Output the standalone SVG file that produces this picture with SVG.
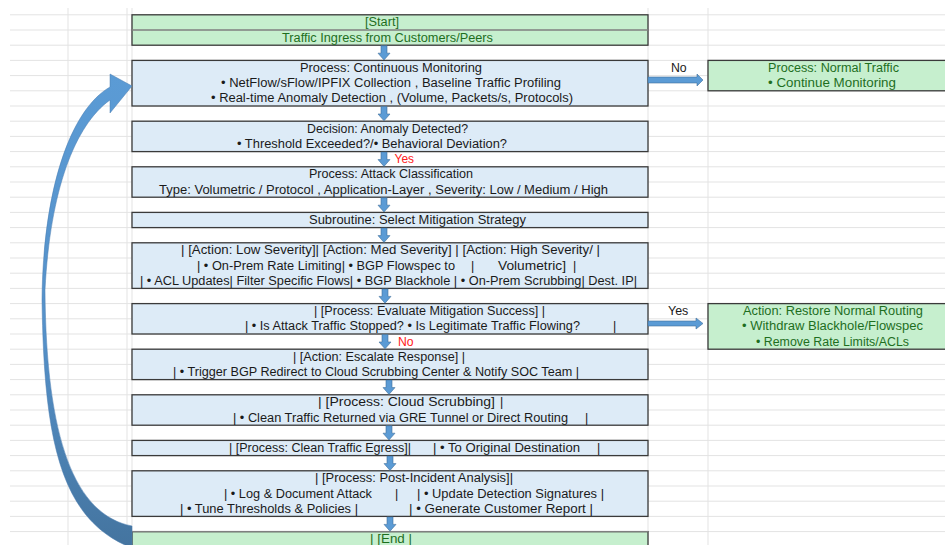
<svg xmlns="http://www.w3.org/2000/svg" width="945" height="545" viewBox="0 0 945 545" xml:space="preserve">
<style>
.grid line{stroke:#e3e3e3;stroke-width:1}
.bb{fill:#ddebf7;stroke:#3a3a3a;stroke-width:1.3}
.gb{fill:#c6efce;stroke:#3a3a3a;stroke-width:1.3}
text{font-family:"Liberation Sans",Arial,sans-serif;font-size:12.5px;fill:#1a1a1a}
text.g{fill:#1e6e1e}
text.r{fill:#ff2020}
.arr{fill:#5b9bd5;stroke:#41719c;stroke-width:0.6}
</style>
<defs>
<path id="darr" d="M-3,0.5 H3 V8 H6 L0,14.8 L-6,8 H-3 Z"/>
<linearGradient id="cg" gradientUnits="userSpaceOnUse" x1="0" y1="74" x2="0" y2="548">
<stop offset="0" stop-color="#5b9bd5"/>
<stop offset="0.55" stop-color="#5591c9"/>
<stop offset="1" stop-color="#44749f"/>
</linearGradient>
</defs>
<rect width="945" height="545" fill="#ffffff"/>
<g class="grid">
<line x1="10" y1="14.8" x2="945" y2="14.8"/><line x1="10" y1="30" x2="945" y2="30"/><line x1="10" y1="45.2" x2="945" y2="45.2"/><line x1="10" y1="60.4" x2="945" y2="60.4"/><line x1="10" y1="75.6" x2="945" y2="75.6"/><line x1="10" y1="90.8" x2="945" y2="90.8"/><line x1="10" y1="106" x2="945" y2="106"/><line x1="10" y1="121.2" x2="945" y2="121.2"/><line x1="10" y1="136.4" x2="945" y2="136.4"/><line x1="10" y1="151.6" x2="945" y2="151.6"/><line x1="10" y1="166.8" x2="945" y2="166.8"/><line x1="10" y1="182" x2="945" y2="182"/><line x1="10" y1="197.2" x2="945" y2="197.2"/><line x1="10" y1="212.4" x2="945" y2="212.4"/><line x1="10" y1="227.6" x2="945" y2="227.6"/><line x1="10" y1="242.8" x2="945" y2="242.8"/><line x1="10" y1="258" x2="945" y2="258"/><line x1="10" y1="273.2" x2="945" y2="273.2"/><line x1="10" y1="288.4" x2="945" y2="288.4"/><line x1="10" y1="303.6" x2="945" y2="303.6"/><line x1="10" y1="318.8" x2="945" y2="318.8"/><line x1="10" y1="334" x2="945" y2="334"/><line x1="10" y1="349.2" x2="945" y2="349.2"/><line x1="10" y1="364.4" x2="945" y2="364.4"/><line x1="10" y1="379.6" x2="945" y2="379.6"/><line x1="10" y1="394.8" x2="945" y2="394.8"/><line x1="10" y1="410" x2="945" y2="410"/><line x1="10" y1="425.2" x2="945" y2="425.2"/><line x1="10" y1="440.4" x2="945" y2="440.4"/><line x1="10" y1="455.6" x2="945" y2="455.6"/><line x1="10" y1="470.8" x2="945" y2="470.8"/><line x1="10" y1="486" x2="945" y2="486"/><line x1="10" y1="501.2" x2="945" y2="501.2"/><line x1="10" y1="516.4" x2="945" y2="516.4"/><line x1="10" y1="531.6" x2="945" y2="531.6"/>
<line x1="68" y1="8" x2="68" y2="545"/><line x1="127" y1="8" x2="127" y2="545"/><line x1="132" y1="8" x2="132" y2="545"/><line x1="648" y1="8" x2="648" y2="545"/><line x1="708" y1="8" x2="708" y2="545"/>
</g>

<g id="node-start">
<rect class="gb" x="132" y="14.8" width="516" height="30.4"/>
<line x1="132" y1="30" x2="648" y2="30" stroke="#7f7f7f" stroke-width="1.4"/>
<text class="g" x="365" y="26.3" textLength="34" lengthAdjust="spacingAndGlyphs">[Start]</text>
<text class="g" x="282" y="41.5" textLength="211" lengthAdjust="spacingAndGlyphs">Traffic Ingress from Customers/Peers</text>
</g>

<g id="node-monitoring">
<rect class="bb" x="132" y="60.4" width="516" height="45.6"/>
<text x="300" y="71.9" textLength="182" lengthAdjust="spacingAndGlyphs">Process: Continuous Monitoring</text>
<text x="221" y="87.1" textLength="340" lengthAdjust="spacingAndGlyphs">• NetFlow/sFlow/IPFIX Collection , Baseline Traffic Profiling</text>
<text x="211" y="102.3" textLength="362" lengthAdjust="spacingAndGlyphs">•  Real-time Anomaly Detection , (Volume, Packets/s, Protocols)</text>
</g>

<g id="node-normal">
<rect class="gb" x="708" y="60.4" width="260" height="30.4"/>
<text class="g" x="768" y="71.9" textLength="131" lengthAdjust="spacingAndGlyphs">Process: Normal Traffic</text>
<text class="g" x="768" y="87.1" textLength="128" lengthAdjust="spacingAndGlyphs">• Continue Monitoring</text>
</g>

<g id="node-decision">
<rect class="bb" x="132" y="121.2" width="516" height="30.4"/>
<text x="307" y="132.7" textLength="161" lengthAdjust="spacingAndGlyphs">Decision: Anomaly Detected?</text>
<text x="237" y="147.9" textLength="270" lengthAdjust="spacingAndGlyphs">• Threshold Exceeded?/• Behavioral Deviation?</text>
</g>

<g id="node-classification">
<rect class="bb" x="132" y="166.8" width="516" height="30.4"/>
<text x="309" y="178.3" textLength="164" lengthAdjust="spacingAndGlyphs">Process: Attack Classification</text>
<text x="159" y="193.5" textLength="449" lengthAdjust="spacingAndGlyphs">Type: Volumetric / Protocol , Application-Layer , Severity: Low / Medium / High</text>
</g>

<g id="node-subroutine">
<rect class="bb" x="132" y="212.4" width="516" height="15.2"/>
<text x="309" y="223.9" textLength="217" lengthAdjust="spacingAndGlyphs">Subroutine: Select Mitigation Strategy</text>
</g>

<g id="node-actions">
<rect class="bb" x="132" y="242.8" width="516" height="45.6"/>
<text x="181" y="254.3" textLength="419" lengthAdjust="spacingAndGlyphs">| [Action: Low Severity]| [Action: Med Severity] | [Action: High Severity/ |</text>
<text x="197" y="269.5" textLength="258" lengthAdjust="spacingAndGlyphs">| • On-Prem Rate Limiting| • BGP Flowspec to</text>
<text x="471" y="269.5">|</text>
<text x="498" y="269.5" textLength="68" lengthAdjust="spacingAndGlyphs">Volumetric]</text>
<text x="573" y="269.5">|</text>
<text x="140" y="284.7" textLength="497" lengthAdjust="spacingAndGlyphs">| • ACL Updates| Filter Specific Flows| • BGP Blackhole | • On-Prem Scrubbing| Dest. IP|</text>
</g>

<g id="node-evaluate">
<rect class="bb" x="132" y="303.6" width="516" height="30.4"/>
<text x="314" y="315.1" textLength="231" lengthAdjust="spacingAndGlyphs">| [Process: Evaluate Mitigation Success] |</text>
<text x="245" y="330.3" textLength="335" lengthAdjust="spacingAndGlyphs">| • Is Attack Traffic Stopped? • Is Legitimate Traffic Flowing?</text>
<text x="613" y="330.3">|</text>
</g>

<g id="node-restore">
<rect class="gb" x="708" y="303.6" width="260" height="45.6"/>
<text class="g" x="743" y="315.1" textLength="180" lengthAdjust="spacingAndGlyphs">Action: Restore Normal Routing</text>
<text class="g" x="742" y="330.3" textLength="181" lengthAdjust="spacingAndGlyphs">• Withdraw Blackhole/Flowspec</text>
<text class="g" x="756" y="345.5" textLength="153" lengthAdjust="spacingAndGlyphs">• Remove Rate Limits/ACLs</text>
</g>

<g id="node-escalate">
<rect class="bb" x="132" y="349.2" width="516" height="30.4"/>
<text x="293" y="360.7" textLength="172" lengthAdjust="spacingAndGlyphs">| [Action: Escalate Response] |</text>
<text x="173" y="375.9" textLength="406" lengthAdjust="spacingAndGlyphs">| • Trigger BGP Redirect to  Cloud Scrubbing Center &amp; Notify SOC Team |</text>
</g>

<g id="node-cloud">
<rect class="bb" x="132" y="394.8" width="516" height="30.4"/>
<text x="318" y="406.3" textLength="177" lengthAdjust="spacingAndGlyphs">| [Process: Cloud Scrubbing]</text>
<text x="500" y="406.3">|</text>
<text x="233" y="421.5" textLength="335" lengthAdjust="spacingAndGlyphs">| • Clean Traffic Returned via GRE   Tunnel or Direct Routing</text>
<text x="585" y="421.5">|</text>
</g>

<g id="node-egress">
<rect class="bb" x="132" y="440.4" width="516" height="15.2"/>
<text x="229" y="451.9" textLength="182" lengthAdjust="spacingAndGlyphs">| [Process: Clean Traffic Egress]|</text>
<text x="433" y="451.9" textLength="147" lengthAdjust="spacingAndGlyphs">| • To Original Destination</text>
<text x="597" y="451.9">|</text>
</g>

<g id="node-postincident">
<rect class="bb" x="132" y="470.8" width="516" height="45.6"/>
<text x="315" y="482.3" textLength="198" lengthAdjust="spacingAndGlyphs">| [Process: Post-Incident Analysis]|</text>
<text x="224" y="497.5" textLength="148" lengthAdjust="spacingAndGlyphs">| • Log &amp; Document Attack</text>
<text x="395" y="497.5">|</text>
<text x="417" y="497.5" textLength="187" lengthAdjust="spacingAndGlyphs">| • Update Detection Signatures |</text>
<text x="180" y="512.7" textLength="178" lengthAdjust="spacingAndGlyphs">| • Tune Thresholds &amp; Policies |</text>
<text x="409" y="512.7" textLength="184" lengthAdjust="spacingAndGlyphs">| • Generate Customer Report |</text>
</g>

<g id="node-end">
<rect class="gb" x="132" y="531.6" width="516" height="20"/>
<line x1="132" y1="531.6" x2="648" y2="531.6" stroke="#7f7f7f" stroke-width="1.4"/>
<text class="g" x="370" y="543.1" textLength="42" lengthAdjust="spacingAndGlyphs">| [End  |</text>
</g>

<g id="connectors">
<use href="#darr" class="arr" x="384" y="45.2"/>
<use href="#darr" class="arr" x="384" y="106"/>
<use href="#darr" class="arr" x="384" y="151.6"/>
<use href="#darr" class="arr" x="384" y="197.2"/>
<use href="#darr" class="arr" x="384" y="227.6"/>
<use href="#darr" class="arr" x="385" y="288.4"/>
<use href="#darr" class="arr" x="385" y="334"/>
<use href="#darr" class="arr" x="389" y="379.6"/>
<use href="#darr" class="arr" x="389" y="425.2"/>
<use href="#darr" class="arr" x="390" y="455.6"/>
<use href="#darr" class="arr" x="390" y="516.4"/>
<path class="arr" d="M648,77 H697 V74 L703,80 L697,86 V83 H648 Z"/>
<path class="arr" d="M648,321 H696 V318 L703,323.5 L696,329 V326 H648 Z"/>
<path d="M110,74 L132,86 L110,113 L110,100 C75,125 50,190 45,290 C46,440 75,515 132,526 L132,548 C60,520 44,440 42,300 C43,190 70,110 110,87 Z" fill="url(#cg)" stroke="#4a7db0" stroke-width="0.5"/>
<text class="r" x="394.6" y="163.1" textLength="19.5" lengthAdjust="spacingAndGlyphs">Yes</text>
<text class="r" x="398" y="345.5" textLength="15.6" lengthAdjust="spacingAndGlyphs">No</text>
<text x="671" y="71.9" textLength="15.7" lengthAdjust="spacingAndGlyphs">No</text>
<text x="668" y="315.1" textLength="20.3" lengthAdjust="spacingAndGlyphs">Yes</text>
</g>
</svg>
